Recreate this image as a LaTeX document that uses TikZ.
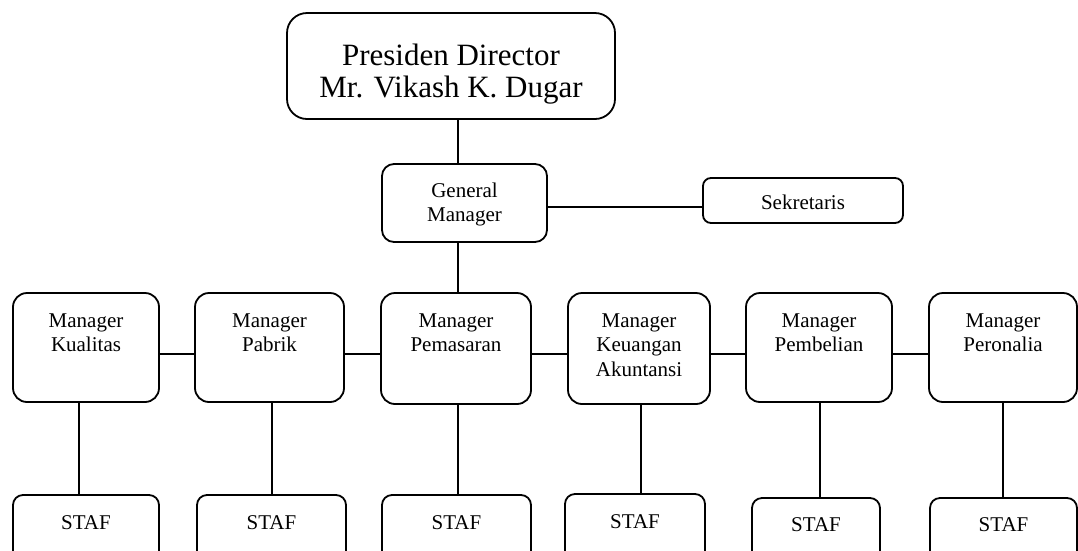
\documentclass[tikz,border=0pt]{standalone}
\usepackage{fontspec}
\setmainfont{Liberation Serif}
\newcommand\bxt[4]{\parbox[c][#2][t]{#1}{\centering\rule{0pt}{#3}#4}}
\begin{document}
\begin{tikzpicture}[x=1pt,y=-1pt,
  box/.style={draw,line width=1.8pt,inner sep=0pt,outer sep=0pt,rounded corners=#1},
  box/.default=14pt,
  conn/.style={line width=1.8pt},
  small/.style={font=\fontsize{21}{24.5}\selectfont},
  big/.style={font=\fontsize{31}{32.5}\selectfont}]
\useasboundingbox (0,0) rectangle (1078,550);
\clip (0,0) rectangle (1078,550);
% top
\node[box=20pt,big] (pd) at (451,66) {\bxt{328pt}{106pt}{52pt}{Presiden Director\\Mr. Vikash K. Dugar}};
\node[box=12pt,small] (gm) at (464.5,203) {\bxt{165pt}{78pt}{33pt}{General\\Manager}};
\node[box=8pt,small] (sk) at (803,200.5) {\bxt{200pt}{45pt}{31pt}{Sekretaris}};
% managers
\node[box,small] (m1) at (86,347.5) {\bxt{146pt}{109pt}{34pt}{Manager\\Kualitas}};
\node[box,small] (m2) at (269.5,347.5) {\bxt{149pt}{109pt}{34pt}{Manager\\Pabrik}};
\node[box,small] (m3) at (456,348.5) {\bxt{150pt}{111pt}{34pt}{Manager\\Pemasaran}};
\node[box,small] (m4) at (639,348.5) {\bxt{142pt}{111pt}{34pt}{Manager\\Keuangan\\Akuntansi}};
\node[box,small] (m5) at (819,347.5) {\bxt{146pt}{109pt}{34pt}{Manager\\Pembelian}};
\node[box,small] (m6) at (1003,347.5) {\bxt{148pt}{109pt}{34pt}{Manager\\Peronalia}};
% staf
\node[box=10pt,small] (s1) at (86,530) {\bxt{146pt}{70pt}{34pt}{STAF}};
\node[box=10pt,small] (s2) at (271.5,530) {\bxt{149pt}{70pt}{34pt}{STAF}};
\node[box=10pt,small] (s3) at (456.5,530) {\bxt{149pt}{70pt}{34pt}{STAF}};
\node[box=10pt,small] (s4) at (635,529) {\bxt{140pt}{70pt}{34pt}{STAF}};
\node[box=10pt,small] (s5) at (816,533) {\bxt{128pt}{70pt}{33pt}{STAF}};
\node[box=10pt,small] (s6) at (1003.5,533) {\bxt{147pt}{70pt}{33pt}{STAF}};
% coordinates
\coordinate (spine) at (458,0);
\coordinate (sy) at (0,207);
\coordinate (hy) at (0,354);
\coordinate (c1) at (79,0);
\coordinate (c2) at (272,0);
\coordinate (c3) at (458,0);
\coordinate (c4) at (641,0);
\coordinate (c5) at (820,0);
\coordinate (c6) at (1003,0);
% connectors
\draw[conn] (pd.south -| spine) -- (gm.north -| spine);
\draw[conn] (gm.east |- sy) -- (sk.west |- sy);
\draw[conn] (gm.south -| spine) -- (m3.north -| spine);
\draw[conn] (m1.east |- hy) -- (m2.west |- hy);
\draw[conn] (m2.east |- hy) -- (m3.west |- hy);
\draw[conn] (m3.east |- hy) -- (m4.west |- hy);
\draw[conn] (m4.east |- hy) -- (m5.west |- hy);
\draw[conn] (m5.east |- hy) -- (m6.west |- hy);
\draw[conn] (m1.south -| c1) -- (s1.north -| c1);
\draw[conn] (m2.south -| c2) -- (s2.north -| c2);
\draw[conn] (m3.south -| c3) -- (s3.north -| c3);
\draw[conn] (m4.south -| c4) -- (s4.north -| c4);
\draw[conn] (m5.south -| c5) -- (s5.north -| c5);
\draw[conn] (m6.south -| c6) -- (s6.north -| c6);
\end{tikzpicture}
\end{document}
